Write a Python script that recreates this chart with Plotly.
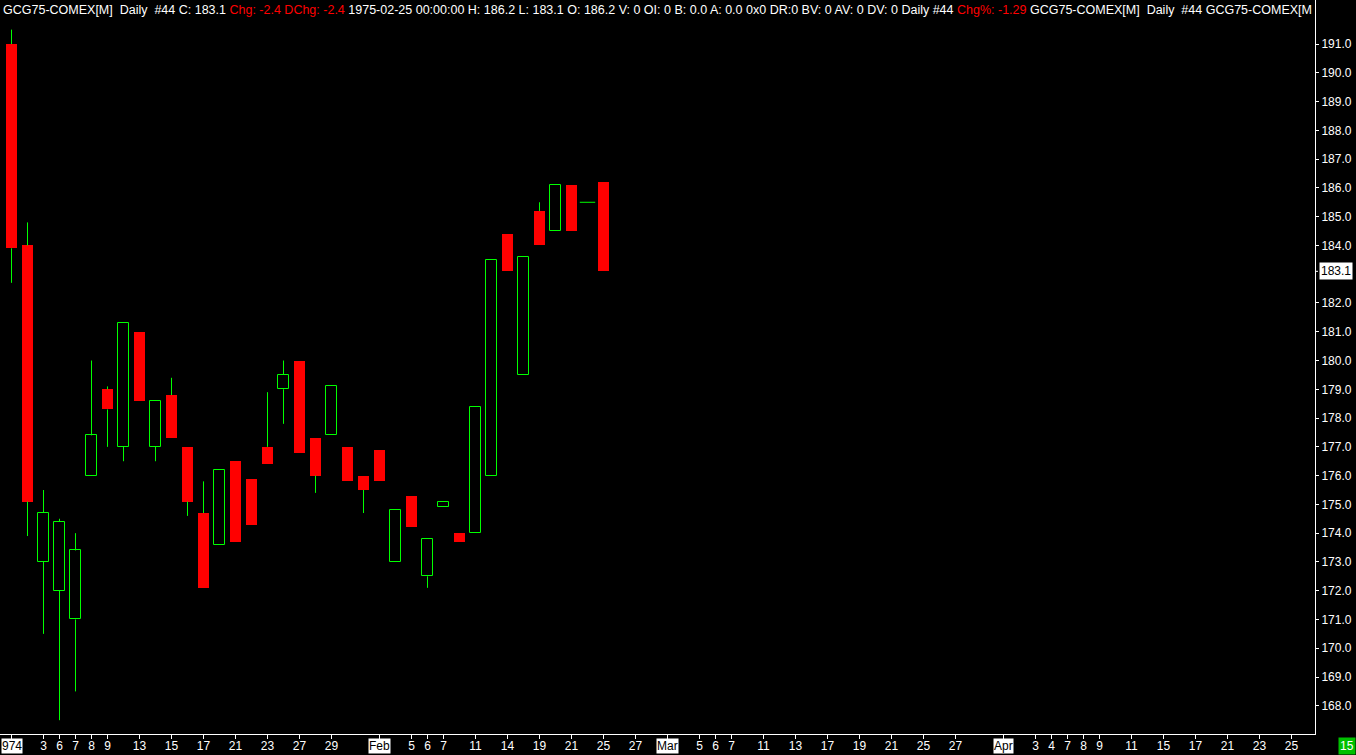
import plotly.graph_objects as go

_THEME = "plotly_dark"
_BG    = "#000000"
_GREEN = "#00ff00"
_RED   = "#ff0000"
_WHITE = "#ffffff"
_FONT  = "Liberation Sans, Arial, sans-serif"
_PLOT_W = 1315  # plot area width in px

# daily bars, slot index = position on the chart
opens  = [191.0, 184.0, 173.0, 172.0, 171.0, 176.0, 179.0, 177.0, 181.0, 177.0,
          178.8, 177.0, 174.7, 173.6, 176.5, 175.9, 177.0, 179.0, 180.0, 177.3,
          177.4, 177.0, 176.0, 176.9, 173.0, 175.3, 172.5, 174.9, 174.0, 174.0,
          176.0, 184.4, 179.5, 185.2, 184.5, 186.1, 185.5, 186.2]
highs  = [191.5, 184.8, 175.5, 174.5, 174.0, 180.0, 179.1, 181.3, 181.0, 178.6,
          179.4, 177.0, 175.8, 176.2, 176.5, 175.9, 178.9, 180.0, 180.0, 177.3,
          179.1, 177.0, 176.0, 176.9, 174.8, 175.3, 173.8, 175.1, 174.0, 178.4,
          183.5, 184.4, 183.6, 185.5, 186.1, 186.1, 185.5, 186.2]
lows   = [182.7, 173.9, 170.5, 167.5, 168.5, 176.0, 177.0, 176.5, 178.6, 176.5,
          177.3, 174.6, 172.1, 173.6, 173.7, 174.3, 176.4, 177.8, 176.8, 175.4,
          177.4, 175.8, 174.7, 175.8, 173.0, 174.2, 172.1, 174.9, 173.7, 174.0,
          176.0, 183.1, 179.5, 184.0, 184.5, 184.5, 185.5, 183.1]
closes = [183.9, 175.1, 174.7, 174.4, 173.4, 177.4, 178.3, 181.3, 178.6, 178.6,
          177.3, 175.1, 172.1, 176.2, 173.7, 174.3, 176.4, 179.5, 176.8, 176.0,
          179.1, 175.8, 175.5, 175.8, 174.8, 174.2, 173.8, 175.1, 173.7, 178.4,
          183.5, 183.1, 183.6, 184.0, 186.1, 184.5, 185.5, 183.1]

tick_slots  = [0, 2, 3, 4, 5, 6, 8, 10, 12, 14, 16, 18, 20, 23, 25, 26, 27, 29,
               31, 33, 35, 37, 39, 41, 43, 44, 45, 47, 49, 51, 53, 55, 57, 59,
               62, 64, 65, 66, 67, 68, 70, 72, 74, 76, 78, 80]
tick_labels = ["974", "3", "6", "7", "8", "9", "13", "15", "17", "21", "23", "27",
               "29", "Feb", "5", "6", "7", "11", "14", "19", "21", "25", "27",
               "Mar", "5", "6", "7", "11", "13", "17", "19", "21", "25", "27",
               "Apr", "3", "4", "7", "8", "9", "11", "15", "17", "21", "23", "25"]
boxed_labels = {"974", "Feb", "Mar", "Apr"}

last_price = 183.1
# the last-price box hides the nearest whole-number label
y_ticks = [v for v in range(168, 192) if abs(v - last_price) > 0.5]

header = ("GCG75-COMEX[M]&nbsp; Daily&nbsp; #44 C: 183.1 "
          "<span style='color:#ff0000'>Chg: -2.4 DChg: -2.4</span> "
          "1975-02-25 00:00:00 H: 186.2 L: 183.1 O: 186.2 V: 0 OI: 0 B: 0.0 A: 0.0 "
          "0x0 DR:0 BV: 0 AV: 0 DV: 0 Daily #44 "
          "<span style='color:#ff0000'>Chg%: -1.29</span> "
          "GCG75-COMEX[M]&nbsp; Daily&nbsp; #44 GCG75-COMEX[M")

slots = list(range(len(opens)))

fig = go.Figure()

# wicks: upper and lower segments, kept off the bodies
wx, wy = [], []
for i, o, h, l, c in zip(slots, opens, highs, lows, closes):
    top, bot = max(o, c), min(o, c)
    if h > top:
        wx += [i, i, None]
        wy += [top, h, None]
    if l < bot:
        wx += [i, i, None]
        wy += [bot, l, None]
fig.add_trace(go.Scatter(x=wx, y=wy, mode="lines", line={"color": _GREEN, "width": 1},
                         hoverinfo="skip", showlegend=False))

up = [i for i in slots if closes[i] > opens[i]]
dn = [i for i in slots if closes[i] < opens[i]]
flat = [i for i in slots if closes[i] == opens[i]]

fig.add_trace(go.Bar(
    x=up, y=[closes[i] - opens[i] for i in up], base=[opens[i] for i in up],
    width=0.63, marker={"color": _BG, "line": {"color": _GREEN, "width": 1}},
    showlegend=False,
))
fig.add_trace(go.Bar(
    x=dn, y=[opens[i] - closes[i] for i in dn], base=[closes[i] for i in dn],
    width=0.69, marker={"color": _RED, "line": {"color": _RED, "width": 0}},
    showlegend=False,
))
fig.add_trace(go.Scatter(
    x=flat, y=[closes[i] for i in flat], mode="markers",
    marker={"symbol": "line-ew", "size": 11, "line": {"color": _GREEN, "width": 1}},
    showlegend=False,
))

annotations = [dict(text=header, xref="paper", yref="paper", x=0, y=1,
                    xanchor="left", yanchor="top", xshift=1, yshift=-1,
                    showarrow=False, font={"color": _WHITE, "size": 12.5, "family": _FONT})]

for s, t in zip(tick_slots, tick_labels):
    if t in boxed_labels:
        annotations.append(dict(text=t, x=s, xref="x", y=0, yref="paper",
                                xanchor="center", yanchor="top", yshift=-4,
                                showarrow=False, bgcolor=_WHITE, borderpad=0,
                                font={"color": "#000000", "size": 12, "family": _FONT}))

annotations.append(dict(text=f"{last_price:.1f}", x=1, xref="paper", y=last_price, yref="y",
                        xanchor="left", yanchor="middle", xshift=4, showarrow=False,
                        bgcolor=_WHITE, borderpad=1,
                        font={"color": "#000000", "size": 12, "family": _FONT}))
annotations.append(dict(text="15", x=1, xref="paper", y=0, yref="paper",
                        xanchor="left", yanchor="top", xshift=23, yshift=-3,
                        showarrow=False, bgcolor="#00c000", borderpad=1,
                        font={"color": _WHITE, "size": 12, "family": _FONT}))

# tick mark next to the last-price box
fig.add_shape(type="line", xref="paper", yref="y", x0=1, x1=1 + 3 / _PLOT_W,
              y0=last_price, y1=last_price, line={"color": _WHITE, "width": 1})

fig.update_layout(
    template=_THEME,
    width=1356, height=755,
    paper_bgcolor=_BG, plot_bgcolor=_BG,
    margin={"l": 0, "r": 41, "t": 0, "b": 21},
    barmode="overlay", bargap=0,
    font={"family": _FONT, "color": _WHITE, "size": 12},
    annotations=annotations,
    xaxis={
        "range": [-0.71875, 81.46875], "showgrid": False, "zeroline": False,
        "showline": True, "linecolor": _WHITE, "linewidth": 1,
        "ticks": "outside", "ticklen": 4, "tickcolor": _WHITE, "tickwidth": 1,
        "tickvals": tick_slots,
        "ticktext": ["" if t in boxed_labels else t for t in tick_labels],
        "tickfont": {"color": _WHITE, "size": 12, "family": _FONT},
        "ticklabelstandoff": -3,
        "automargin": False, "fixedrange": True,
    },
    yaxis={
        "range": [167.02, 192.53], "side": "right", "showgrid": False, "zeroline": False,
        "showline": True, "linecolor": _WHITE, "linewidth": 1,
        "ticks": "outside", "ticklen": 3, "tickcolor": _WHITE, "tickwidth": 1,
        "tickvals": y_ticks, "tickformat": ".1f",
        "tickfont": {"color": _WHITE, "size": 12, "family": _FONT},
        "automargin": False, "fixedrange": True,
    },
)

fig.write_html("out.html", config={"displayModeBar": False},
               post_script="document.body.style.margin='0';")
